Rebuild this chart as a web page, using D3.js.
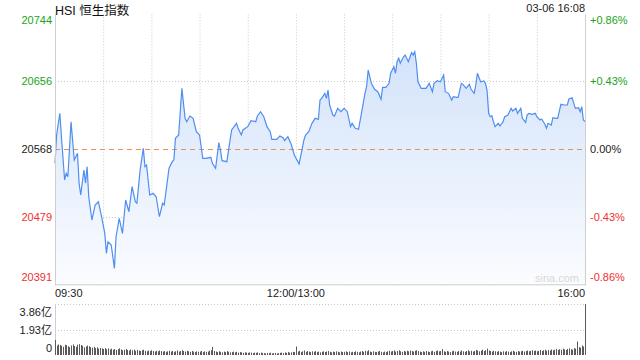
<!DOCTYPE html>
<html><head><meta charset="utf-8">
<script src="https://cdn.jsdelivr.net/npm/d3@7"></script>
<style>body{margin:0;background:#fff}svg{display:block}text{font-family:"Liberation Sans",Arial,"Noto Sans CJK SC",sans-serif}</style>
</head><body><svg id="c" width="640" height="360"></svg>
<script>
const title = "HSI 恒生指数";
const stamp = "03-06 16:08";
const basePrice = 20568.3;
const priceLabels = ["20744","20656","20568","20479","20391"];
const pctValues = [0.86,0.43,0,-0.43,-0.86];
const pctLabels = ["+0.86%","+0.43%","0.00%","-0.43%","-0.86%"];
const timeLabels = ["09:30","12:00/13:00","16:00"];
const timeLabelMinutes = [0,150,330];
const volLabels = ["3.86亿","1.93亿","0"];
const volLabelValues = [3.86,1.93,0];

// minute index (0 = 09:30, 150 = 12:00/13:00, 330 = 16:00)
const minutes = [0,1,3,4,6,7,8,10,12,14,15,16,18,19,20,21,23,25,27,29,31,32,33,35,37,38,40,42,44,46,48,50,51,53,55,56,57,59,61,63,65,67,68,71,73,74,75,77,79,81,82,84,
86,88,90,92,94,97,98,100,102,103,104,107,109,110,113,114,116,117,120,122,125,126,128,130,132,134,135,138,140,142,143,145,147,149,152,155,156,158,160,162,164,165,
166,168,169,170,171,173,174,176,178,180,182,184,185,187,189,191,193,194,195,197,199,201,203,204,206,208,209,211,212,213,214,215,217,218,220,222,223,224,225,226,228,231,233,235,236,238,240,242,243,
245,247,248,250,251,253,254,256,258,259,261,262,263,265,267,268,269,270,271,272,273,274,276,277,279,280,282,284,285,287,288,290,291,293,294,295,297,299,300,302,303,305,306,307,309,310,312,313,315,317,319,320,322,323,324,326,327,328,329,330];
const prices = [20550.1,20586.9,20615.1,20584.7,20528.4,20537.1,20532.7,20604.2,20554.4,20563.1,20524.1,20508.9,20541.4,20524.1,20545.7,20506.6,20476.3,20495.9,20500.1,20480.6,20459.0,20433.0,20448.1,20443.8,20413.5,20454.6,20478.6,20459.0,20502.4,20487.1,20519.7,20500.1,20498.1,20541.4,20569.6,20545.7,20547.9,20508.9,20511.1,20506.6,20480.6,20498.1,20495.9,20543.6,20552.2,20554.4,20582.6,20586.9,20647.6,20608.6,20604.2,20611.6,
20608.6,20591.2,20586.9,20556.6,20556.6,20557.9,20550.1,20543.6,20576.9,20567.4,20553.5,20552.2,20580.4,20593.4,20602.1,20595.6,20586.9,20593.4,20597.7,20605.5,20604.2,20611.6,20617.2,20610.7,20597.7,20591.2,20581.3,20581.3,20585.6,20583.4,20579.5,20584.7,20575.2,20560.9,20549.2,20580.4,20586.9,20591.2,20602.1,20608.6,20607.3,20632.4,
20634.6,20641.1,20634.6,20645.4,20625.9,20612.9,20611.6,20621.6,20617.2,20621.6,20617.2,20597.7,20602.1,20595.6,20594.3,20617.2,20641.1,20649.7,20671.4,20654.1,20646.3,20643.2,20633.4,20648.9,20648.9,20654.1,20667.2,20675.7,20667.2,20682.2,20686.7,20680.2,20688.7,20691.0,20682.2,20694.0,20691.0,20695.2,20680.2,20656.2,20647.6,20647.6,20654.1,20643.2,20654.1,20657.5,20656.2,20664.9,20643.2,
20641.1,20632.4,20636.7,20635.9,20635.9,20654.1,20652.8,20647.6,20652.8,20646.7,20641.1,20651.9,20667.2,20656.2,20657.1,20654.1,20645.4,20615.1,20610.7,20612.0,20604.2,20597.7,20602.1,20598.6,20604.2,20610.7,20612.9,20621.6,20618.1,20621.6,20615.1,20621.6,20608.6,20603.4,20612.9,20615.1,20613.8,20615.1,20610.7,20606.4,20607.7,20600.8,20595.6,20602.1,20599.9,20609.4,20608.6,20608.6,20626.8,20625.9,20625.9,20633.7,20635.4,20628.1,20621.6,20622.4,20617.2,20623.7,20606.4,20604.2];

// volume per minute, in 亿
const volumes = [
1.14,0.72,0.80,0.76,0.70,0.62,0.78,0.74,0.66,0.60,
0.72,0.80,0.68,0.62,0.78,0.82,0.76,0.70,0.58,0.64,
0.72,0.66,0.60,0.55,0.62,0.52,0.58,0.48,0.54,0.50,
0.46,0.52,0.44,0.50,0.42,0.48,0.40,0.45,0.38,0.44,
0.50,0.42,0.36,0.40,0.46,0.38,0.34,0.42,0.36,0.40,
0.32,0.38,0.34,0.30,0.36,0.40,0.32,0.28,0.34,0.30,
0.36,0.30,0.26,0.32,0.28,0.34,0.30,0.26,0.30,0.24,
0.28,0.32,0.26,0.30,0.24,0.28,0.34,0.26,0.30,0.36,
0.30,0.26,0.32,0.28,0.24,0.30,0.26,0.22,0.28,0.24,
0.26,0.30,0.22,0.28,0.24,0.26,0.32,0.36,0.62,0.30,
0.26,0.22,0.28,0.24,0.20,0.26,0.22,0.30,0.24,0.20,
0.22,0.26,0.20,0.24,0.18,0.22,0.20,0.16,0.20,0.18,
0.16,0.20,0.18,0.14,0.18,0.16,0.20,0.14,0.18,0.16,
0.14,0.12,0.16,0.14,0.18,0.12,0.14,0.16,0.12,0.14,
0.16,0.18,0.14,0.20,0.16,0.22,0.18,0.20,0.24,0.22,
0.64,0.26,0.32,0.22,0.28,0.34,0.24,0.30,0.26,0.22,
0.28,0.24,0.30,0.22,0.26,0.20,0.24,0.28,0.22,0.26,
0.30,0.24,0.20,0.26,0.22,0.28,0.24,0.20,0.26,0.22,
0.24,0.28,0.22,0.26,0.20,0.24,0.22,0.28,0.24,0.20,
0.26,0.30,0.24,0.32,0.28,0.36,0.26,0.22,0.28,0.24,
0.22,0.26,0.30,0.24,0.20,0.26,0.22,0.28,0.32,0.26,
0.30,0.34,0.26,0.30,0.36,0.28,0.24,0.30,0.26,0.32,
0.28,0.34,0.30,0.26,0.32,0.36,0.30,0.26,0.22,0.28,
0.24,0.30,0.26,0.22,0.28,0.32,0.24,0.30,0.34,0.28,
0.30,0.44,0.28,0.24,0.30,0.26,0.22,0.28,0.32,0.26,
0.24,0.30,0.26,0.34,0.28,0.24,0.30,0.36,0.28,0.32,
0.26,0.30,0.38,0.34,0.28,0.32,0.40,0.30,0.36,0.48,
0.34,0.30,0.26,0.32,0.28,0.24,0.30,0.26,0.22,0.28,
0.24,0.30,0.26,0.22,0.28,0.32,0.26,0.24,0.30,0.26,
0.28,0.32,0.26,0.30,0.34,0.28,0.32,0.36,0.30,0.34,
0.28,0.32,0.38,0.30,0.36,0.40,0.32,0.38,0.34,0.42,
0.36,0.40,0.46,0.38,0.44,0.40,0.48,0.42,0.38,0.46,
0.50,0.44,0.40,0.52,0.48,1.02,0.60,0.56,0.72,0.64,
3.86];

const svg = d3.select("#c");
const L = 55, R = 585, T = 13.3, B = 285.3;
const VT = 304, VB = 355;
const green = "#1aa31a", red = "#f03030", dark = "#222";

const x = d3.scaleLinear().domain([0,330]).range([L,R]);
const y = d3.scaleLinear().domain([basePrice*(1-0.0086), basePrice*(1+0.0086)]).range([B,T]);
const yv = d3.scaleLinear().domain([0,3.86]).range([VB,VT]);

const defs = svg.append("defs");
const grad = defs.append("linearGradient").attr("id","g")
  .attr("gradientUnits","userSpaceOnUse").attr("x1",0).attr("x2",0).attr("y1",T).attr("y2",B);
grad.append("stop").attr("offset",0).attr("stop-color","#cddff9");
grad.append("stop").attr("offset",1).attr("stop-color","#fbfcff");

// vertical gridlines every 30 min
const vgrid = d3.range(30,330,30);
svg.append("g").selectAll("line").data(vgrid).join("line")
  .attr("x1",d=>x(d)+0.5).attr("x2",d=>x(d)+0.5).attr("y1",T+1).attr("y2",B)
  .attr("stroke","#c8c8c8").attr("stroke-dasharray","1,2");
// horizontal gridlines
svg.append("g").selectAll("line").data(pctValues.filter(p=>p!==0 && Math.abs(p)<0.8)).join("line")
  .attr("x1",L).attr("x2",R).attr("y1",p=>Math.round(y(basePrice*(1+p/100)))+0.5).attr("y2",p=>Math.round(y(basePrice*(1+p/100)))+0.5)
  .attr("stroke","#c8c8c8").attr("stroke-dasharray","1,2");

// area + line
const pts = minutes.map((m,i)=>({m, v:prices[i]}));
svg.append("path").datum(pts)
  .attr("d", d3.area().x(d=>x(d.m)).y0(B).y1(d=>y(d.v)))
  .attr("fill","url(#g)");
// base dashed line
svg.append("line").attr("x1",L).attr("x2",R).attr("y1",Math.round(y(basePrice))+0.5).attr("y2",Math.round(y(basePrice))+0.5)
  .attr("stroke","#e8905a").attr("stroke-dasharray","5,4");
svg.append("path").datum(pts)
  .attr("d", d3.line().x(d=>x(d.m)).y(d=>y(d.v)))
  .attr("fill","none").attr("stroke","#4f8ef0").attr("stroke-width",1.2);

// frame
svg.append("line").attr("x1",L+0.5).attr("x2",L+0.5).attr("y1",T+1).attr("y2",B).attr("stroke","#cfcfcf");
svg.append("line").attr("x1",R+0.5).attr("x2",R+0.5).attr("y1",T+1).attr("y2",B).attr("stroke","#cfcfcf");
svg.append("line").attr("x1",L).attr("x2",R+1).attr("y1",B-0.5).attr("y2",B-0.5).attr("stroke","#cfcfcf");

// watermark
svg.append("text").attr("x",R-6).attr("y",B-3).attr("text-anchor","end").attr("font-size",11).attr("fill","#d8d8d8").text("sina.com");

// left price labels
const colFor = p => p>0 ? green : (p<0 ? red : dark);
svg.append("g").selectAll("text").data(pctValues).join("text")
  .attr("x",L-3).attr("y",p=>Math.min(Math.max(y(basePrice*(1+p/100)),T+7),B-8)).attr("dy","0.35em")
  .attr("text-anchor","end").attr("font-size",11).attr("fill",colFor)
  .text((p,i)=>priceLabels[i]);
// right pct labels
svg.append("g").selectAll("text").data(pctValues).join("text")
  .attr("x",R+5).attr("y",p=>Math.min(Math.max(y(basePrice*(1+p/100)),T+7),B-8)).attr("dy","0.35em")
  .attr("text-anchor","start").attr("font-size",11).attr("fill",colFor)
  .text((p,i)=>pctLabels[i]);

// time labels
svg.append("g").selectAll("text").data(timeLabels).join("text")
  .attr("x",(t,i)=>x(timeLabelMinutes[i])).attr("y",297)
  .attr("text-anchor",(t,i)=>i===0?"start":(i===timeLabels.length-1?"end":"middle"))
  .attr("font-size",11).attr("fill",dark).text(t=>t);

// title & stamp
svg.append("text").attr("x",L).attr("y",15).attr("font-size",12.5).attr("fill","#111").text(title);
svg.append("text").attr("x",R).attr("y",12).attr("text-anchor","end").attr("font-size",11).attr("fill","#222").text(stamp);

// volume panel
svg.append("g").selectAll("line").data([3.86,1.93]).join("line")
  .attr("x1",L).attr("x2",R).attr("y1",d=>Math.round(yv(d))+0.5).attr("y2",d=>Math.round(yv(d))+0.5)
  .attr("stroke","#c8c8c8").attr("stroke-dasharray","1,2");
svg.append("line").attr("x1",L+0.5).attr("x2",L+0.5).attr("y1",VT).attr("y2",VB).attr("stroke","#cfcfcf");
svg.append("g").selectAll("line").data(volumes).join("line")
  .attr("x1",(d,i)=>Math.round(x(i))+0.5).attr("x2",(d,i)=>Math.round(x(i))+0.5)
  .attr("y1",VB).attr("y2",d=>yv(d)).attr("stroke","#5a5a5a").attr("stroke-width",1);
svg.append("g").selectAll("text").data(volLabelValues).join("text")
  .attr("x",L-3).attr("y",(d,i)=>[312,330,348][i]).attr("dy","0.35em")
  .attr("text-anchor","end").attr("font-size",11).attr("fill",dark).text((d,i)=>volLabels[i]);
</script></body></html>
